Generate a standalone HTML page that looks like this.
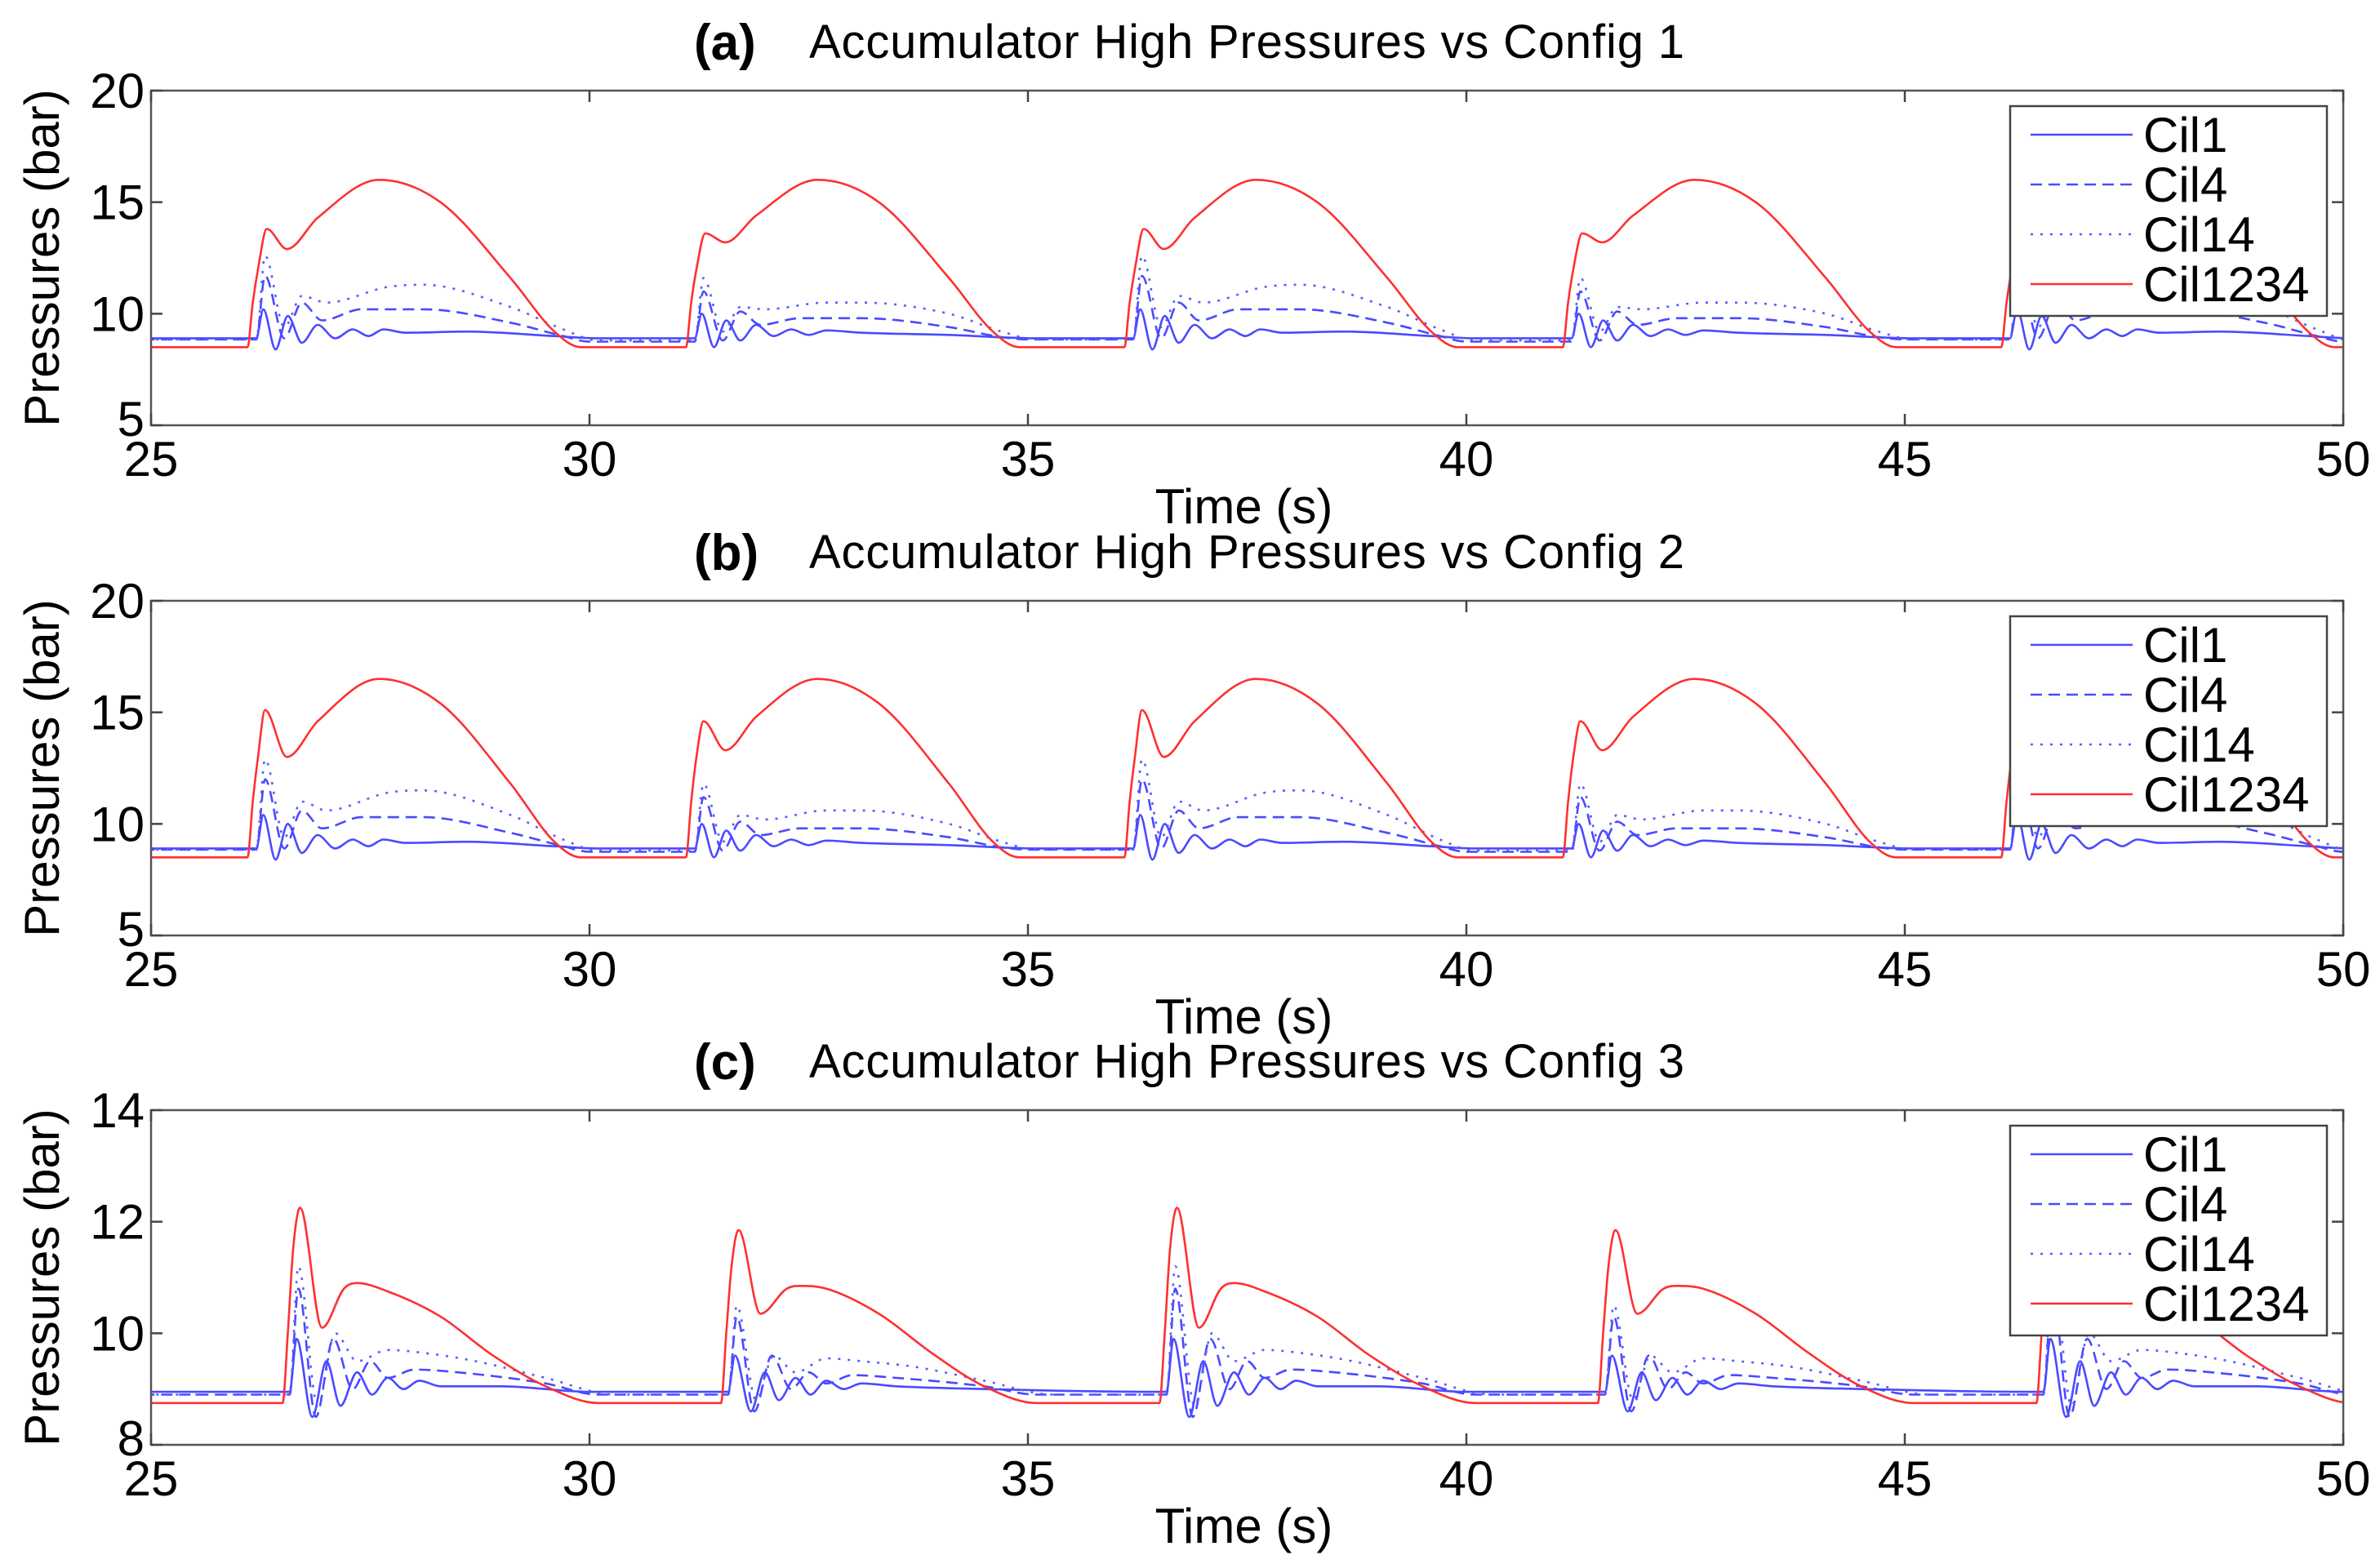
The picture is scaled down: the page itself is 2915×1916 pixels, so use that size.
<!DOCTYPE html>
<html><head><meta charset="utf-8">
<style>
html,body{margin:0;padding:0;background:#fff;}
svg{display:block;font-family:"Liberation Sans",Arial,sans-serif;}
</style></head>
<body>
<svg id="fig" width="2915" height="1916" viewBox="0 0 2915 1916" xmlns="http://www.w3.org/2000/svg"></svg>
<script>
// ---------- DATA ----------
const xTicks = [25, 30, 35, 40, 45, 50];
const yTicksA = [5, 10, 15, 20];
const yTicksB = [5, 10, 15, 20];
const yTicksC = [8, 10, 12, 14];
const seriesNames = ['Cil1', 'Cil4', 'Cil14', 'Cil1234'];
const panelTitles = ['Accumulator High Pressures vs Config 1', 'Accumulator High Pressures vs Config 2', 'Accumulator High Pressures vs Config 3'];
const panelLetters = ['(a)', '(b)', '(c)'];

const cycleStartsA = [26.1, 31.1, 36.1, 41.1, 46.1];
const cycleStartsB = [26.1, 31.1, 36.1, 41.1, 46.1];
const cycleStartsC = [26.5, 31.5, 36.5, 41.5, 46.5];
const cycleKinds = ['A', 'B', 'A', 'B', 'A'];

// templates: [dt, value]
const aCil1A = [[0,8.9],[0.1,8.9],[0.18,10.2],[0.32,8.4],[0.46,9.9],[0.62,8.7],[0.8,9.5],[1.0,8.9],[1.2,9.3],[1.38,9.0],[1.55,9.3],[1.8,9.15],[2.5,9.2],[3.5,9.0],[4.0,8.9],[5.0,8.9]];
const aCil1B = [[0,8.9],[0.1,8.9],[0.18,10.0],[0.32,8.5],[0.46,9.7],[0.62,8.8],[0.8,9.5],[1.0,9.0],[1.2,9.3],[1.4,9.05],[1.6,9.25],[2.0,9.15],[3.0,9.05],[4.0,8.9],[5.0,8.9]];
const aCil4A = [[0,8.85],[0.1,8.85],[0.2,11.7],[0.42,8.9],[0.62,10.5],[0.85,9.7],[1.3,10.2],[2.0,10.2],[3.0,9.6],[3.6,9.0],[3.9,8.75],[5.0,8.75]];
const aCil4B = [[0,8.75],[0.1,8.75],[0.2,11.0],[0.42,8.8],[0.62,10.1],[0.85,9.5],[1.3,9.8],[2.0,9.8],[3.0,9.4],[3.6,8.95],[3.9,8.85],[5.0,8.85]];
const aCil14A = [[0,8.85],[0.1,8.85],[0.2,12.6],[0.42,9.4],[0.62,10.8],[0.9,10.5],[1.6,11.2],[2.0,11.3],[3.0,10.3],[3.6,9.3],[4.0,8.8],[5.0,8.8]];
const aCil14B = [[0,8.8],[0.1,8.8],[0.2,11.6],[0.42,9.2],[0.62,10.3],[0.9,10.2],[1.6,10.5],[2.0,10.5],[3.0,10.0],[3.6,9.2],[4.0,8.85],[5.0,8.85]];
const aRedA = [[0,8.5],[0.06,10.5],[0.12,12.0],[0.22,13.8],[0.45,12.9],[0.8,14.3],[1.5,16.0],[2.2,15.0],[3.0,11.6],[3.5,9.2],[3.8,8.5],[5.0,8.5]];
const aRedB = [[0,8.5],[0.06,10.5],[0.12,12.0],[0.22,13.6],[0.45,13.2],[0.8,14.4],[1.5,16.0],[2.2,15.0],[3.0,11.6],[3.5,9.2],[3.8,8.5],[5.0,8.5]];
const bCil1A = [[0,8.9],[0.1,8.9],[0.18,10.4],[0.32,8.4],[0.46,10.0],[0.62,8.7],[0.8,9.5],[1.0,8.9],[1.2,9.3],[1.38,9.0],[1.55,9.3],[1.8,9.15],[2.5,9.2],[3.5,9.0],[4.0,8.9],[5.0,8.9]];
const bCil1B = [[0,8.9],[0.1,8.9],[0.18,10.0],[0.32,8.5],[0.46,9.7],[0.62,8.8],[0.8,9.5],[1.0,9.0],[1.2,9.3],[1.4,9.05],[1.6,9.25],[2.0,9.15],[3.0,9.05],[4.0,8.9],[5.0,8.9]];
const bCil4A = [[0,8.85],[0.1,8.85],[0.2,12.0],[0.42,8.9],[0.62,10.6],[0.85,9.8],[1.3,10.3],[2.0,10.3],[3.0,9.6],[3.6,9.0],[3.9,8.75],[5.0,8.75]];
const bCil4B = [[0,8.75],[0.1,8.75],[0.2,11.2],[0.42,8.8],[0.62,10.1],[0.85,9.5],[1.3,9.8],[2.0,9.8],[3.0,9.4],[3.6,8.95],[3.9,8.85],[5.0,8.85]];
const bCil14A = [[0,8.85],[0.1,8.85],[0.2,12.9],[0.42,9.4],[0.62,11.0],[0.9,10.6],[1.6,11.4],[2.0,11.5],[3.0,10.4],[3.6,9.3],[4.0,8.8],[5.0,8.8]];
const bCil14B = [[0,8.8],[0.1,8.8],[0.2,11.8],[0.42,9.2],[0.62,10.4],[0.9,10.2],[1.6,10.6],[2.0,10.6],[3.0,10.0],[3.6,9.2],[4.0,8.85],[5.0,8.85]];
const bRedA = [[0,8.5],[0.06,11.0],[0.12,13.0],[0.2,15.1],[0.45,13.0],[0.8,14.6],[1.5,16.5],[2.2,15.4],[3.0,11.8],[3.5,9.2],[3.8,8.5],[5.0,8.5]];
const bRedB = [[0,8.5],[0.06,11.0],[0.12,13.0],[0.2,14.6],[0.45,13.3],[0.8,14.8],[1.5,16.5],[2.2,15.4],[3.0,11.8],[3.5,9.2],[3.8,8.5],[5.0,8.5]];
const cCil1A = [[0,8.95],[0.08,8.95],[0.16,9.9],[0.34,8.5],[0.5,9.5],[0.66,8.7],[0.85,9.3],[1.02,8.9],[1.2,9.2],[1.38,9.0],[1.56,9.15],[1.8,9.05],[2.5,9.05],[3.5,8.95],[5.0,8.95]];
const cCil1B = [[0,8.95],[0.08,8.95],[0.16,9.6],[0.34,8.6],[0.5,9.3],[0.66,8.8],[0.85,9.2],[1.02,8.9],[1.2,9.15],[1.4,9.0],[1.6,9.1],[2.0,9.05],[3.0,9.0],[5.0,8.95]];
const cCil4A = [[0,8.9],[0.08,8.9],[0.18,10.8],[0.38,8.5],[0.58,9.9],[0.8,9.0],[1.0,9.5],[1.2,9.2],[1.5,9.35],[2.0,9.3],[3.0,9.1],[3.6,8.9],[5.0,8.9]];
const cCil4B = [[0,8.9],[0.08,8.9],[0.18,10.3],[0.38,8.6],[0.58,9.6],[0.8,9.0],[1.0,9.3],[1.2,9.1],[1.5,9.25],[2.0,9.2],[3.0,9.05],[3.6,8.9],[5.0,8.9]];
const cCil14A = [[0,8.9],[0.08,8.9],[0.18,11.2],[0.4,8.7],[0.6,10.0],[0.85,9.5],[1.2,9.7],[1.6,9.65],[2.2,9.5],[3.0,9.2],[3.8,8.9],[5.0,8.9]];
const cCil14B = [[0,8.9],[0.08,8.9],[0.18,10.5],[0.4,8.8],[0.6,9.6],[0.85,9.3],[1.2,9.55],[1.6,9.5],[2.2,9.4],[3.0,9.15],[3.8,8.9],[5.0,8.9]];
const cRedA = [[0,8.75],[0.06,10.0],[0.12,11.5],[0.2,12.25],[0.45,10.1],[0.7,10.8],[0.85,10.9],[1.2,10.75],[1.8,10.3],[2.4,9.6],[3.0,9.05],[3.6,8.75],[5.0,8.75]];
const cRedB = [[0,8.75],[0.06,10.0],[0.12,11.2],[0.2,11.85],[0.45,10.35],[0.75,10.8],[0.9,10.85],[1.2,10.8],[1.8,10.35],[2.4,9.65],[3.0,9.05],[3.6,8.75],[5.0,8.75]];

// ---------- LAYOUT ----------
const NS = 'http://www.w3.org/2000/svg';
const svg = document.getElementById('fig');
const PL = 185, PR = 2870, PH = 410;
const panelTops = [111, 736, 1360];
const panels = [
  {yTicks: yTicksA, starts: cycleStartsA, s: [[aCil1A,aCil1B],[aCil4A,aCil4B],[aCil14A,aCil14B],[aRedA,aRedB]]},
  {yTicks: yTicksB, starts: cycleStartsB, s: [[bCil1A,bCil1B],[bCil4A,bCil4B],[bCil14A,bCil14B],[bRedA,bRedB]]},
  {yTicks: yTicksC, starts: cycleStartsC, s: [[cCil1A,cCil1B],[cCil4A,cCil4B],[cCil14A,cCil14B],[cRedA,cRedB]]}
];
const styles = [
  {stroke:'#4a4aff', dash:''},
  {stroke:'#4a4aff', dash:'14 8'},
  {stroke:'#5c5cff', dash:'3 9'},
  {stroke:'#ff3030', dash:''}
];
const xMin = 25, xMax = 50;
function xs(t){ return PL + (t - xMin) / (xMax - xMin) * (PR - PL); }

function mk(tag, attrs, parent){
  const e = document.createElementNS(NS, tag);
  for (const k in attrs) e.setAttribute(k, attrs[k]);
  (parent || svg).appendChild(e);
  return e;
}

function buildPoints(starts, tmplPair){
  const pts = [];
  const first = tmplPair[0][0][1];
  pts.push([xMin - 0.5, first]);
  starts.forEach((t0, i) => {
    const tm = cycleKinds[i] === 'A' ? tmplPair[0] : tmplPair[1];
    tm.forEach(p => { if (t0 + p[0] > pts[pts.length-1][0] + 1e-6) pts.push([t0 + p[0], p[1]]); });
  });
  return pts;
}

// monotone cubic (Fritsch-Carlson) - no overshoot
function monoPath(P){
  const n = P.length;
  const d = [], m = new Array(n);
  for (let i = 0; i < n-1; i++) d.push((P[i+1][1]-P[i][1])/(P[i+1][0]-P[i][0]));
  m[0] = d[0]; m[n-1] = d[n-2];
  for (let i = 1; i < n-1; i++) m[i] = (d[i-1]*d[i] <= 0) ? 0 : (d[i-1]+d[i])/2;
  for (let i = 0; i < n-1; i++){
    if (d[i] === 0){ m[i] = 0; m[i+1] = 0; continue; }
    const a = m[i]/d[i], b = m[i+1]/d[i], s = a*a + b*b;
    if (s > 9){ const t = 3/Math.sqrt(s); m[i] = t*a*d[i]; m[i+1] = t*b*d[i]; }
  }
  let path = 'M' + P[0][0].toFixed(1) + ',' + P[0][1].toFixed(1);
  for (let i = 0; i < n-1; i++){
    const h = (P[i+1][0]-P[i][0])/3;
    path += ' C' + (P[i][0]+h).toFixed(1) + ',' + (P[i][1]+m[i]*h).toFixed(1) + ' ' + (P[i+1][0]-h).toFixed(1) + ',' + (P[i+1][1]-m[i+1]*h).toFixed(1) + ' ' + P[i+1][0].toFixed(1) + ',' + P[i+1][1].toFixed(1);
  }
  return path;
}

const defs = mk('defs', {});
panels.forEach((pn, pi) => {
  const top = panelTops[pi], bot = top + PH;
  const yMin = pn.yTicks[0], yMax = pn.yTicks[pn.yTicks.length-1];
  const ys = v => bot - (v - yMin) / (yMax - yMin) * PH;
  const g = mk('g', {});
  
  

  const tl = mk('text', {x: 850, y: top - 38, 'font-size': 62, 'font-weight': 'bold', fill: '#000'}, g);
  tl.textContent = panelLetters[pi];
  
  
  const tt = mk('text', {x: 991, y: top - 40, 'font-size': 58, fill: '#000', textLength: 1072}, g);
  tt.textContent = panelTitles[pi];
  
  

  const cp = mk('clipPath', {id: 'clip' + pi}, defs);
  mk('rect', {x: PL, y: top, width: PR - PL, height: PH}, cp);

  pn.s.forEach((pair, si) => {
    const pts = buildPoints(pn.starts, pair).map(p => [xs(p[0]), ys(p[1])]);
    const path = mk('path', {d: monoPath(pts), fill: 'none', stroke: styles[si].stroke, 'stroke-width': 2.6, 'stroke-dasharray': styles[si].dash, 'clip-path': 'url(#clip' + pi + ')'}, g);
    
    
  });

  const box = mk('rect', {x: PL, y: top, width: PR - PL, height: PH, fill: 'none', stroke: '#555', 'stroke-width': 2.5}, g);
  
  

  xTicks.forEach(t => {
    const x = xs(t);
    mk('line', {x1: x, y1: bot, x2: x, y2: bot - 14, stroke: '#444', 'stroke-width': 2.5}, g);
    mk('line', {x1: x, y1: top, x2: x, y2: top + 14, stroke: '#444', 'stroke-width': 2.5}, g);
    const lb = mk('text', {x: x, y: bot + 62, 'font-size': 60, 'text-anchor': 'middle', fill: '#000'}, g);
    lb.textContent = t;
    
    
  });
  pn.yTicks.forEach(v => {
    const y = ys(v);
    mk('line', {x1: PL, y1: y, x2: PL + 14, y2: y, stroke: '#444', 'stroke-width': 2.5}, g);
    mk('line', {x1: PR, y1: y, x2: PR - 14, y2: y, stroke: '#444', 'stroke-width': 2.5}, g);
    const lb = mk('text', {x: PL - 8, y: y + 21 - (v === yMin ? 8 : 0), 'font-size': 60, 'text-anchor': 'end', fill: '#000'}, g);
    lb.textContent = v;
    
    
  });
  const xl = mk('text', {x: (PL + PR) / 2 - 4, y: bot + 120, 'font-size': 60, 'text-anchor': 'middle', fill: '#000'}, g);
  xl.textContent = 'Time (s)';
  
  
  const cy = (top + bot) / 2;
  const yl = mk('text', {x: 0, y: 0, 'font-size': 60, 'text-anchor': 'middle', fill: '#000', transform: 'translate(72,' + cy + ') rotate(-90)'}, g);
  yl.textContent = 'Pressures (bar)';
  
  

  const lg = mk('g', {}, g);
  
  
  mk('rect', {x: 2462, y: top + 19, width: 388, height: 257, fill: '#fff', stroke: '#444', 'stroke-width': 2.5}, lg);
  seriesNames.forEach((nm, si) => {
    const ey = top + 54 + si * 61;
    const ln = mk('line', {x1: 2487, y1: ey, x2: 2612, y2: ey, stroke: styles[si].stroke, 'stroke-width': 2.6, 'stroke-dasharray': styles[si].dash}, lg);
    
    
    const tx = mk('text', {x: 2625, y: ey + 21, 'font-size': 60, fill: '#000'}, lg);
    tx.textContent = nm;
    
    
  });
});
</script>
</body></html>
